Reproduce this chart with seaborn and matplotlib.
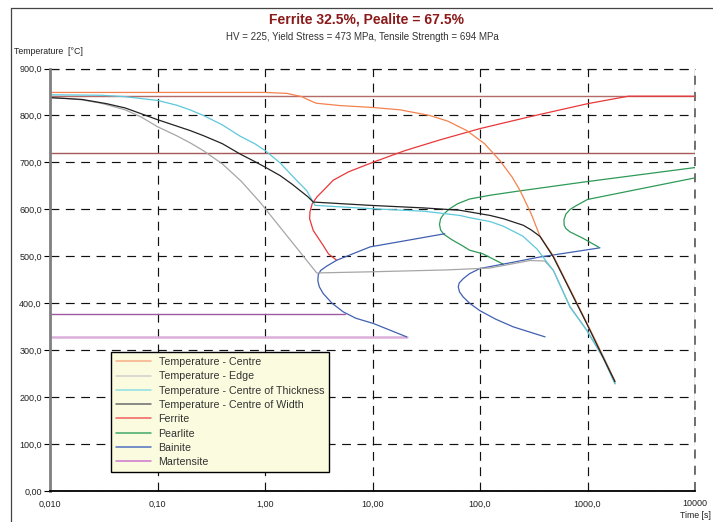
import matplotlib
matplotlib.use("Agg")
import matplotlib.pyplot as plt
from matplotlib.lines import Line2D
from matplotlib.ticker import NullLocator
import seaborn as sns

# ---------------- data ----------------
title = "Ferrite 32.5%, Pealite = 67.5%"
subtitle = "HV = 225, Yield Stress = 473 MPa, Tensile Strength = 694 MPa"

x_ticks = [0.01, 0.1, 1, 10, 100, 1000, 10000]
x_tick_labels = ["0,010", "0,10", "1,00", "10,00", "100,0", "1000,0", "10000"]
y_ticks = [0, 100, 200, 300, 400, 500, 600, 700, 800, 900]
y_tick_labels = ["0,00", "100,0", "200,0", "300,0", "400,0", "500,0",
                 "600,0", "700,0", "800,0", "900,0"]

# cooling curves
centre_t = [0.01, 0.5, 1.0, 1.6, 2.2, 2.6, 3.0, 5.0, 10, 18, 34, 50, 75, 110, 153,
            200, 236, 300, 361, 481, 687, 982, 1400, 1803]
centre_T = [849, 849, 849, 847, 840, 832, 826, 821, 817, 812, 800, 788, 768, 740, 704,
            668, 640, 590, 543, 501, 430, 359, 287, 234]

edge_t = [0.01, 0.015, 0.02, 0.03, 0.05, 0.07, 0.1, 0.15, 0.2, 0.267, 0.4, 0.6,
          0.9, 3.03, 10, 50, 124, 292, 400, 481, 687, 982, 1400, 1803]
edge_T = [838, 836, 833, 826, 812, 797, 776, 757, 742, 725, 697, 660,
          615, 464.5, 467, 471, 475, 491, 490, 470, 393, 343, 283, 229]

thick_t = [0.01, 0.03, 0.05, 0.1, 0.15, 0.2, 0.267, 0.4, 0.585, 0.8, 1.0, 1.38,
           2.0, 2.44, 2.92, 9.5, 30, 65, 80.7, 124, 165, 250, 337, 481, 687,
           982, 1400, 1803]
thick_T = [844, 843, 840, 832, 822, 812, 800, 780, 756, 740, 725.5, 699,
           660, 640, 608.5, 601.5, 596, 587, 582, 574, 564, 543, 516, 470, 392,
           342.5, 285, 228]

width_t = [0.01, 0.02, 0.0337, 0.05, 0.1, 0.2, 0.267, 0.4, 0.585, 0.8, 1.0, 1.38,
           1.8, 2.12, 2.5, 2.81, 9.5, 30, 65, 124, 165, 253, 300, 361, 481, 687,
           982, 1400, 1803]
width_T = [838, 834, 825, 816, 791, 768, 757, 740, 718, 702, 690, 672,
           653, 640, 627, 615.5, 608.5, 603, 598, 587, 580, 566, 556, 542.5, 498.5,
           427.7, 356.8, 284, 232.6]

# transformation curves
ferrite_t = [4.64, 3.9, 3.48, 2.81, 2.6, 2.62, 2.75, 3.03, 3.48, 4.31, 6.0, 10.2,
             20, 42.5, 100, 300, 1000, 2400, 10000]
ferrite_T = [491.5, 505, 523, 555, 580, 595, 612, 626, 640, 662, 680, 700.6,
             725, 748, 772, 798, 825, 841, 841]

pearlite_s_t = [10000, 914, 230, 124, 80, 62, 52, 46, 43, 42, 43, 46, 55, 68, 80,
                107, 165]
pearlite_s_T = [689, 658, 639, 630, 622, 612, 601, 590, 580, 568, 556, 547, 535,
                523, 513, 505, 483]

pearlite_f_t = [10000, 3000, 1000, 794, 690, 630, 604, 607, 630, 687, 914, 1280]
pearlite_f_T = [667, 643, 621, 608.5, 600, 590, 578, 566, 559, 552, 538, 519]

bainite_1_t = [47, 20, 9.5, 4.64, 3.75, 3.3, 3.13, 3.1, 3.2, 3.48, 4.2, 5.35, 7.0,
               10.2, 20.8]
bainite_1_T = [548, 533, 520, 491.5, 479, 470, 461, 448, 435, 420.6, 400, 381.5,
               368, 356.8, 328.3]

bainite_2_t = [1306, 700, 361, 200, 100, 80, 70, 64, 62.8, 64.5, 70, 80, 100, 140,
               204, 403]
bainite_2_T = [518, 508.5, 498.5, 487, 474, 463, 452.5, 443, 434.7, 424, 413, 400,
               384, 366, 349.6, 328.3]

martensite_t = [0.01, 20.8]
martensite_T = [328.3, 328.3]
ms_line_t = [0.01, 5.6]
ms_line_T = [378, 378]

ae3_t = [0.01, 10000]
ae3_T = [841, 841]
ae1_t = [0.01, 10000]
ae1_T = [721, 721]

legend_labels = ["Temperature - Centre", "Temperature - Edge",
                 "Temperature - Centre of Thickness", "Temperature - Centre of Width",
                 "Ferrite", "Pearlite", "Bainite", "Martensite"]
legend_colors = ["#f7ad86", "#cfcfcf", "#8edde6", "#6b6b6b",
                 "#f06060", "#40a868", "#5070c0", "#cc77cc"]

# ---------------- figure ----------------
sns.set_theme(style="white")
plt.rcParams["font.family"] = ["Liberation Sans", "DejaVu Sans"]

W, H = 713, 522
fig = plt.figure(figsize=(W / 100, H / 100), dpi=100)
ax_left, ax_right, ax_top, ax_bottom = 50, 695, 68.5, 491
ax = fig.add_axes([ax_left / W, 1 - ax_bottom / H,
                   (ax_right - ax_left) / W, (ax_bottom - ax_top) / H])
ax.set_xscale("log")


def draw(t, T, color, lw=0.9):
    sns.lineplot(x=t, y=T, ax=ax, color=color, lw=lw, sort=False,
                 estimator=None, legend=False)


draw(ae3_t, ae3_T, "#b56a6a", 1.0)
draw(ae1_t, ae1_T, "#a85a5a", 1.0)
draw(martensite_t, martensite_T, "#dcaedc", 1.8)
draw(ms_line_t, ms_line_T, "#a05aa0", 1.0)
draw(ferrite_t, ferrite_T, "#e8383a")
draw(pearlite_s_t, pearlite_s_T, "#2e9a58")
draw(pearlite_f_t, pearlite_f_T, "#2e9a58")
draw(bainite_1_t, bainite_1_T, "#4060b0")
draw(bainite_2_t, bainite_2_T, "#4060b0")
draw(edge_t, edge_T, "#a6a6a6")
draw(centre_t, centre_T, "#f4824e")
draw(thick_t, thick_T, "#5cc8da")
draw(width_t, width_T, "#222222")

ax.set_xlim(0.01, 10000)
ax.set_ylim(0, 900)
ax.set_xlabel("")
ax.set_ylabel("")
ax.set_xticks(x_ticks)
ax.set_xticklabels(x_tick_labels)
ax.xaxis.set_minor_locator(NullLocator())
ax.set_yticks(y_ticks)
ax.set_yticklabels(y_tick_labels)
ax.tick_params(axis="y", length=4, width=0.8, color="black", direction="out",
               labelsize=6.5, pad=2, labelcolor="#222222", left=True)
ax.tick_params(axis="x", length=0, pad=6, labelsize=6.5, labelcolor="#222222")

dash = (0, (7.5, 5.5))
ax.grid(True, which="major", color="#111111", lw=0.85, linestyle=dash)
ax.set_axisbelow(True)
ax.axhline(900, color="#111111", lw=0.85, linestyle=dash, clip_on=False, zorder=0.5)
ax.axvline(10000, color="#666666", lw=1.3, linestyle=(0, (5, 4)), clip_on=False,
           zorder=0.5)

for s in ["top", "right"]:
    ax.spines[s].set_visible(False)
ax.spines["left"].set_color("#808080")
ax.spines["left"].set_linewidth(2.0)
ax.spines["bottom"].set_color("black")
ax.spines["bottom"].set_linewidth(1.3)

handles = [Line2D([0], [0], color=c, lw=1.1) for c in legend_colors]
leg = ax.legend(handles, legend_labels, loc="upper left",
                bbox_to_anchor=((111 - ax_left) / (ax_right - ax_left),
                                (ax_bottom - 352.3) / (ax_bottom - ax_top)),
                bbox_transform=ax.transAxes, frameon=True, fancybox=False,
                edgecolor="black", facecolor="#fbfbdf", framealpha=1,
                fontsize=7.7, handlelength=3.3, handletextpad=0.7,
                labelspacing=0.4, borderpad=0.45, borderaxespad=0)
leg.get_frame().set_linewidth(1.0)
for txt in leg.get_texts():
    txt.set_color("#333333")

# texts
fig.text(366 / W, 1 - 19 / H, title, ha="center", va="center", fontsize=10,
         fontweight="bold", color="#8b1a1a")
fig.text(362 / W, 1 - 37 / H, subtitle, ha="center", va="center", fontsize=7,
         color="#333333")
fig.text(14 / W, 1 - 51 / H, "Temperature  [°C]", ha="left", va="center",
         fontsize=6.3, color="#222222")
fig.text(711 / W, 1 - 516 / H, "Time [s]", ha="right", va="center",
         fontsize=6.3, color="#222222")

# outer frame
fig.add_artist(Line2D([11 / W, 1], [1 - 8 / H, 1 - 8 / H], transform=fig.transFigure,
                      color="#444444", lw=0.9))
fig.add_artist(Line2D([11 / W, 11 / W], [0, 1 - 8 / H], transform=fig.transFigure,
                      color="#444444", lw=0.9))

fig.savefig("out.png", dpi=100)
